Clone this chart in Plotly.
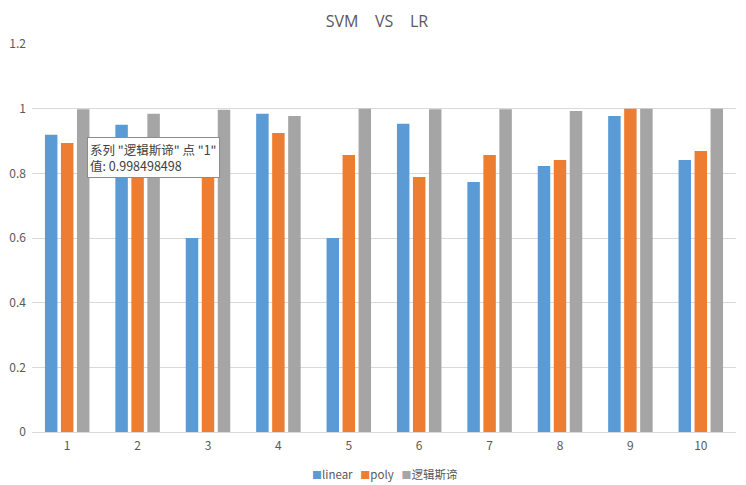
import plotly.graph_objects as go

categories = ["1", "2", "3", "4", "5", "6", "7", "8", "9", "10"]
linear = [0.919, 0.950, 0.600, 0.984, 0.600, 0.953, 0.773, 0.823, 0.977, 0.841]
poly = [0.894, 0.850, 0.850, 0.925, 0.857, 0.789, 0.857, 0.841, 1.000, 0.869]
logistic = [0.998498498, 0.984, 0.997, 0.977, 1.000, 0.998, 0.998, 0.993, 1.000, 1.000]

series_names = ["linear", "poly", "逻辑斯谛"]
colors = ["#5B9BD5", "#ED7D31", "#A5A5A5"]

FONT = "Noto Sans CJK SC, Open Sans, sans-serif"

fig = go.Figure()
for name, vals, col in zip(series_names, [linear, poly, logistic], colors):
    fig.add_trace(go.Bar(x=categories, y=vals, name=name, marker_color=col,
                         marker_line_width=0, showlegend=False))

# tooltip box
tip_text = "系列 \"逻辑斯谛\" 点 \"1\"<br>值: 0.998498498"
fig.add_annotation(x=0.284, y=0.9125, xref="x", yref="y", xanchor="left", yanchor="top",
                   text=tip_text, showarrow=False, align="left",
                   font=dict(family=FONT, size=12.5, color="#404040"),
                   bgcolor="white", borderpad=2, borderwidth=1, bordercolor="#8C8C8C")

# legend (bottom, centered)
legend_text = "&nbsp;&nbsp;&nbsp;".join(
    f"<span style='color:{c};font-size:10px'>■</span>{n}" for n, c in zip(series_names, colors)
)
fig.add_annotation(x=0.5, y=-0.108, xref="paper", yref="paper", xanchor="center",
                   yanchor="middle", text=legend_text, showarrow=False,
                   font=dict(family=FONT, size=11.5, color="#595959"))

fig.update_layout(
    width=738, height=477,
    margin=dict(l=24, r=10, t=36, b=53, autoexpand=False),
    paper_bgcolor="white", plot_bgcolor="white",
    font=dict(family=FONT, size=12, color="#595959"),
    title=dict(text="SVM    VS    LR", x=0.5, xanchor="center", y=0.971, yanchor="middle",
               font=dict(family="Open Sans, sans-serif", size=16, color="#595959")),
    barmode="group", bargap=0.318, bargroupgap=0.22,
    showlegend=False,
)
fig.update_xaxes(type="category", showgrid=False, showline=True, linecolor="#D9D9D9",
                 linewidth=1, ticks="", tickfont=dict(size=12, color="#595959"),
                 ticklabelstandoff=3, automargin=False)
fig.update_yaxes(range=[0, 1.2], dtick=0.2, showgrid=True, gridcolor="#D9D9D9",
                 gridwidth=1, zeroline=False, showline=False, ticks="",
                 tickfont=dict(size=12, color="#595959"), ticklabelstandoff=5,
                 automargin=False)

fig.write_html("out.html")
